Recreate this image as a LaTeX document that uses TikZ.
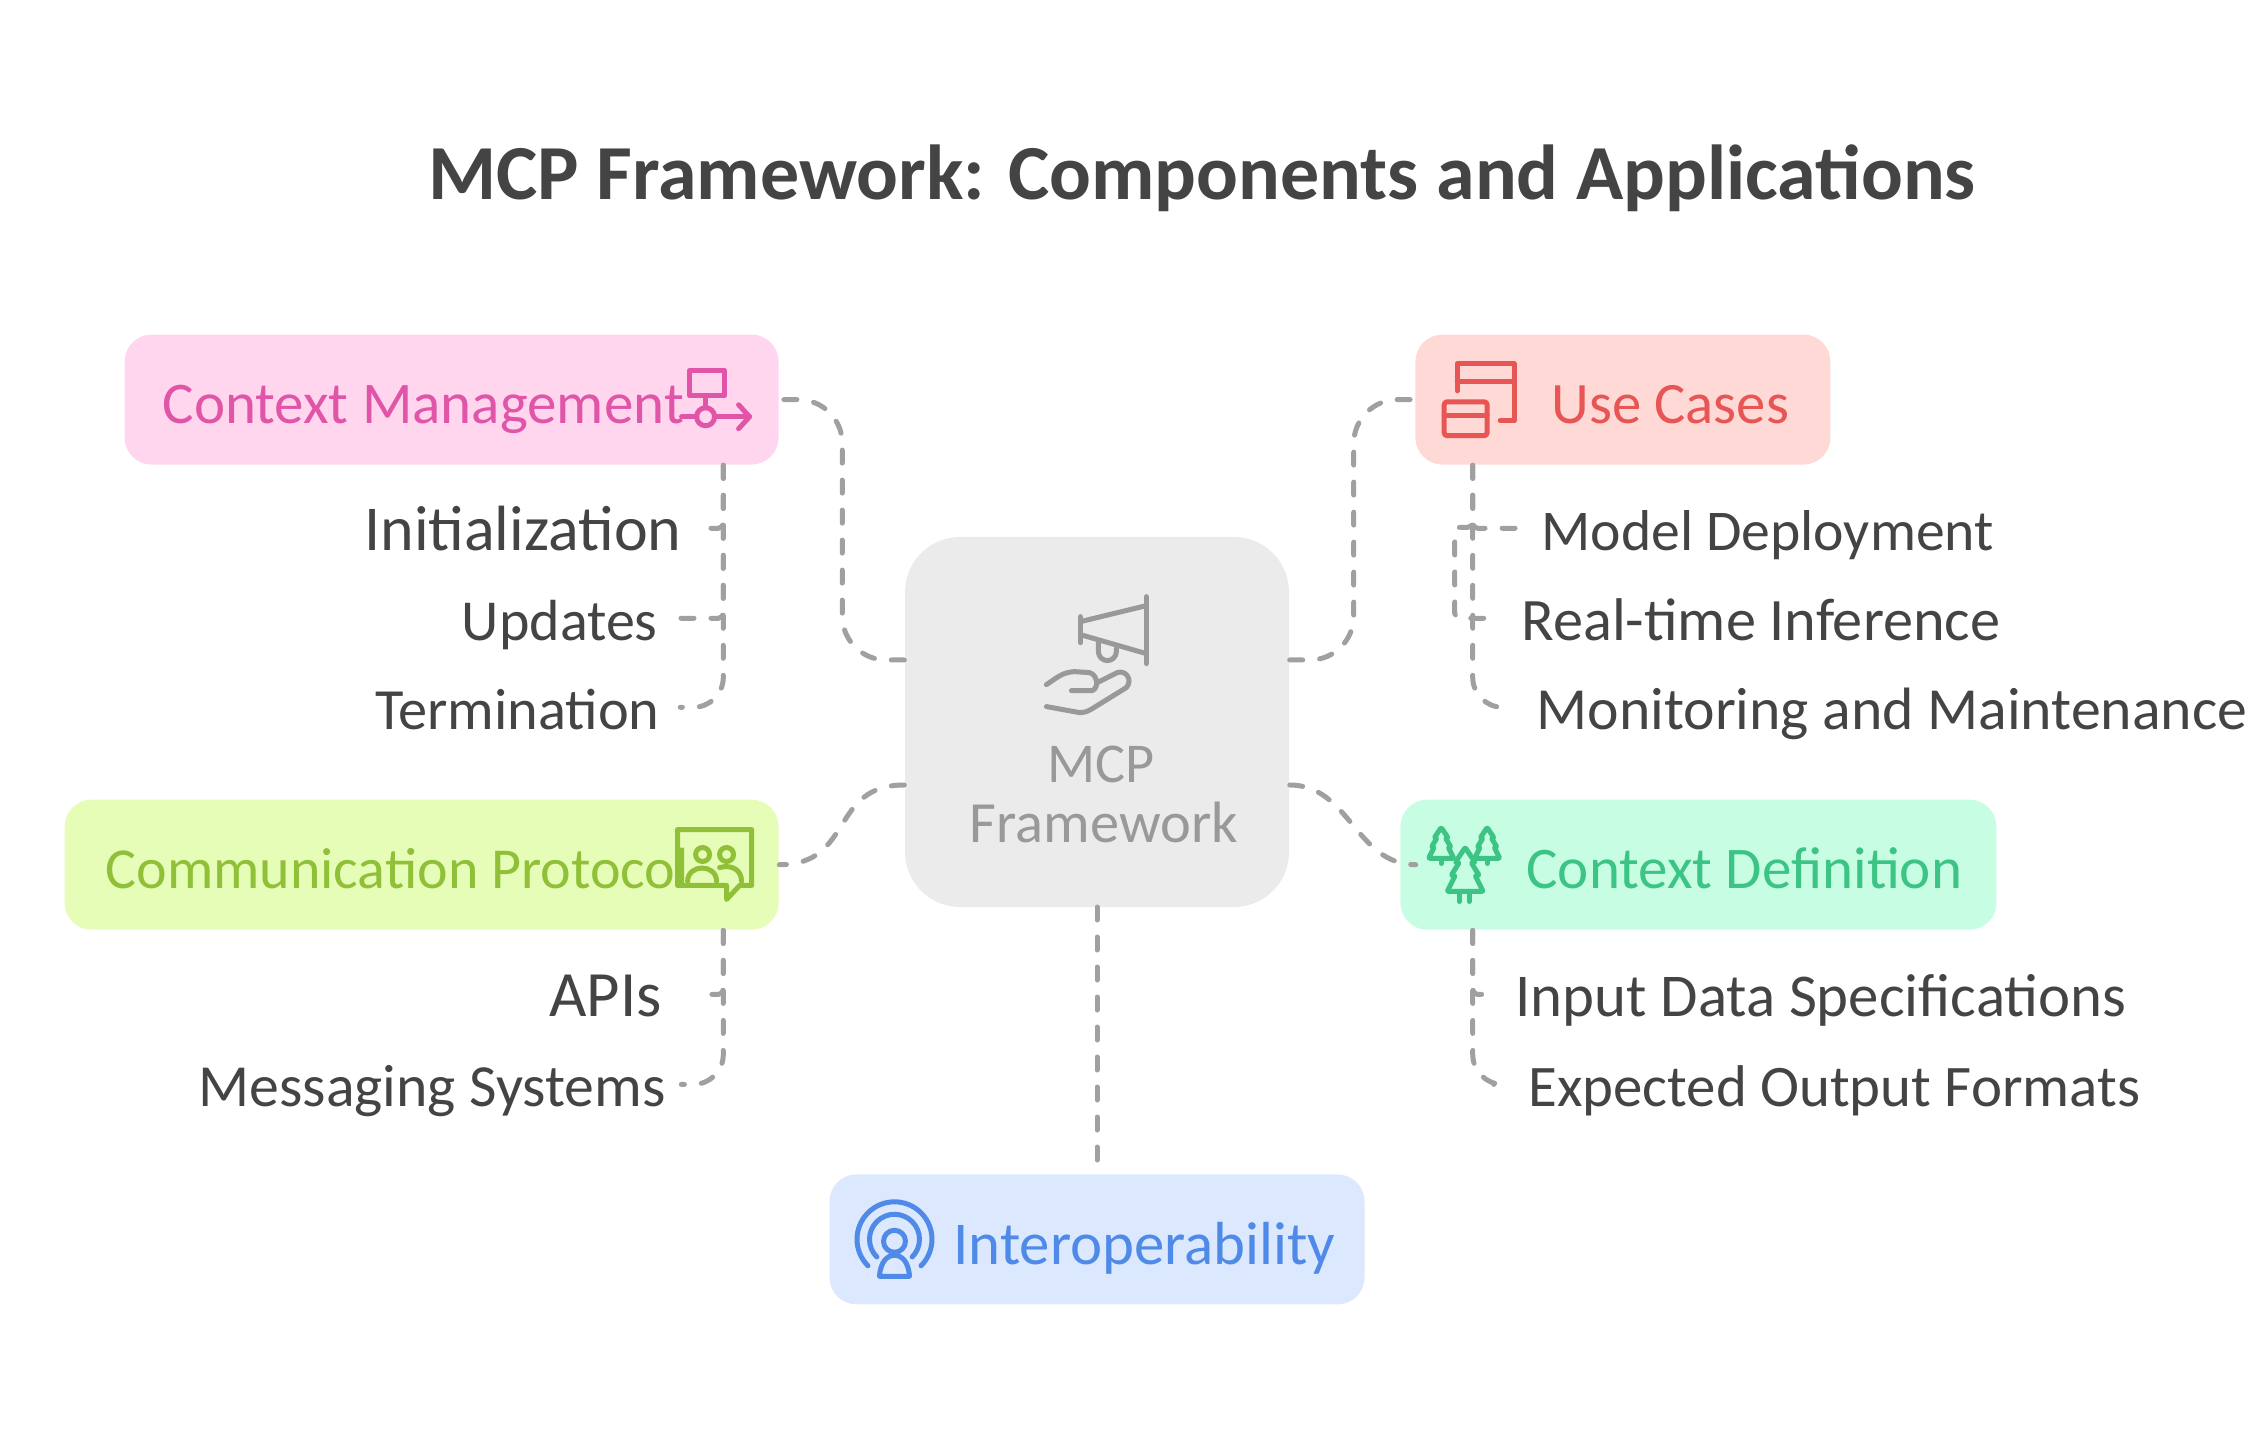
\documentclass[tikz,border=0pt]{standalone}
\usepackage{fontspec}
\setmainfont{Carlito}
\usetikzlibrary{positioning,calc}
\definecolor{inkgray}{HTML}{444444}
\definecolor{linkgray}{HTML}{A0A0A0}
\definecolor{hubfill}{HTML}{EBEBEB}
\definecolor{hubink}{HTML}{999999}
\definecolor{pinkfill}{HTML}{FFD6EE}
\definecolor{pinkink}{HTML}{E055A8}
\definecolor{redfill}{HTML}{FFD9D6}
\definecolor{redink}{HTML}{E85555}
\definecolor{limefill}{HTML}{E6FDB8}
\definecolor{limeink}{HTML}{90C038}
\definecolor{mintfill}{HTML}{C7FDE3}
\definecolor{mintink}{HTML}{3CC485}
\definecolor{bluefill}{HTML}{DCE8FD}
\definecolor{blueink}{HTML}{4F8AE8}

\begin{document}
\begin{tikzpicture}[
    % hub in the middle
    hubbox/.style={
      rectangle,
      rounded corners=0.55cm,
      fill=hubfill,
      minimum width=3.84cm,
      minimum height=3.70cm,
      inner sep=0pt
    },
    % coloured topic boxes
    topicbox/.style={
      rectangle,
      rounded corners=0.27cm,
      minimum height=1.30cm,
      inner sep=0pt
    },
    % text in a topic box, font size as argument
    topictext/.style={
      font=\fontsize{#1}{20}\selectfont,
      inner sep=0pt
    },
    % the leaves at the trunk lines
    leaftext/.style={
      font=\fontsize{#1}{20}\selectfont,
      text=inkgray,
      inner sep=0pt,
      text height=0.44cm,
      text depth=0pt
    },
    % dashed connectors
    link/.style={
      draw=linkgray,
      line width=0.05cm,
      line cap=round,
      dash pattern=on 0.13cm off 0.17cm
    },
    iconline/.style={
      line width=0.05cm,
      line cap=round,
      line join=round
    },
    pxscope/.style={
      x=0.01cm,
      y=-0.01cm
    }
  ]

  \useasboundingbox (0,0) rectangle (22.55,-14.30);

  % --- NODES ---

  % Title and hub
  \node[font=\fontsize{22.17}{26}\selectfont\bfseries, text=inkgray, anchor=base, inner sep=0pt] (title) at (12.02,-2.00)
    {MCP Framework: Components and Applications};
  \node[hubbox] (mcp) at (10.97,-7.22) {};
  \node[topictext=16, text=hubink, anchor=base] (mcpfirst) at ($(mcp.south)+(0.04,1.25)$) {MCP};
  \node[topictext=16.6, text=hubink, anchor=base] (mcpsecond) at ($(mcp.south)+(0.07,0.65)$) {Framework};

  % Topic boxes
  \node[topicbox, fill=pinkfill, minimum width=6.54cm, above left=0.71cm and 1.25cm of mcp.north west] (context) {};
  \node[topicbox, fill=redfill, minimum width=4.15cm, above right=0.71cm and 1.25cm of mcp.north east] (cases) {};
  \node[topicbox, fill=limefill, minimum width=7.14cm, below left=0.77cm and 1.25cm of mcp.west] (comm) {};
  \node[topicbox, fill=mintfill, minimum width=5.96cm, below right=0.77cm and 1.10cm of mcp.east] (definition) {};
  \node[topicbox, fill=bluefill, minimum width=5.35cm, below=2.66cm of mcp] (interop) {};

  \node[topictext=16.8, text=pinkink, anchor=base west] (contexttext) at ($(context.south west)+(0.38,0.42)$) {Context Management};
  \node[topictext=16.7, text=redink, anchor=base west] (casestext) at ($(cases.south west)+(1.36,0.42)$) {Use Cases};
  \node[topictext=16.5, text=limeink, anchor=base west] (commtext) at ($(comm.south west)+(0.41,0.42)$) {Communication Protocol};
  \node[topictext=16.8, text=mintink, anchor=base west] (definitiontext) at ($(definition.south west)+(1.26,0.42)$) {Context Definition};
  \node[topictext=17.3, text=blueink, anchor=base west] (interoptext) at ($(interop.south west)+(1.24,0.41)$) {Interoperability};

  % Leaves
  \node[leaftext=18.2, anchor=base east] (init) at ($(context.south east)+(-0.97,-0.85)$) {Initialization};
  \node[leaftext=16.5, anchor=base east] (updates) at ($(context.south east)+(-1.21,-1.75)$) {Updates};
  \node[leaftext=16.6, anchor=base east] (term) at ($(context.south east)+(-1.19,-2.64)$) {Termination};

  \node[leaftext=16.4, anchor=base west] (deploy) at ($(cases.south west)+(1.26,-0.85)$) {Model Deployment};
  \node[leaftext=17.15, anchor=base west] (realtime) at ($(cases.south west)+(1.06,-1.75)$) {Real-time Inference};
  \node[leaftext=17, anchor=base west] (monitor) at ($(cases.south west)+(1.21,-2.64)$) {Monitoring and Maintenance};

  \node[leaftext=18.4, anchor=base east] (apis) at ($(comm.south east)+(-1.17,-0.86)$) {APIs};
  \node[leaftext=17, anchor=base east] (messaging) at ($(comm.south east)+(-1.13,-1.76)$) {Messaging Systems};

  \node[leaftext=17.3, anchor=base west] (input) at ($(definition.south west)+(1.15,-0.86)$) {Input Data Specifications};
  \node[leaftext=16.75, anchor=base west] (output) at ($(definition.south west)+(1.28,-1.76)$) {Expected Output Formats};

  % --- CONNECTORS ---
  \coordinate (mcpnw) at ($(mcp.west)+(0,0.62)$);
  \coordinate (mcpsw) at ($(mcp.west)+(0,-0.63)$);
  \coordinate (mcpne) at ($(mcp.east)+(0,0.62)$);
  \coordinate (mcpse) at ($(mcp.east)+(0,-0.63)$);
  \coordinate (contexttrunk) at ($(context.south east)+(-0.56,0)$);
  \coordinate (casestrunk) at ($(cases.south west)+(0.58,0)$);
  \coordinate (commtrunk) at ($(comm.south east)+(-0.56,0)$);
  \coordinate (definitiontrunk) at ($(definition.south west)+(0.73,0)$);
  \coordinate (definitionend) at ($(definition.west)+(0.16,0)$);

  % Hub to topics
  \draw[link, rounded corners=0.44cm] (mcpnw) -- ++(-0.62,0) |- (context.east);
  \draw[link, rounded corners=0.44cm] (mcpne) -- ++(0.64,0) |- (cases.west);
  \draw[link] (mcpsw) .. controls +(-0.75,0) and +(0.75,0) .. (comm.east);
  \draw[link] (mcpse) .. controls +(0.60,0) and +(-0.60,0) .. (definitionend);
  \draw[link] (mcp) ++(0,-1.85) -- (interop.north);

  % Topics to leaves
  \draw[link, rounded corners=0.05cm, shorten >=0.20cm] (contexttrunk) |- (init.east);
  \draw[link, rounded corners=0.05cm, shorten >=0.20cm] (contexttrunk) |- (updates.east);
  \draw[link, rounded corners=0.30cm, shorten >=0.20cm] (contexttrunk) |- (term.east);

  \draw[link, rounded corners=0.05cm, shorten >=0.20cm] (casestrunk) |- (deploy.west);
  \draw[link, rounded corners=0.05cm, shorten >=0.30cm] (casestrunk) -- ++(0,-0.62) -- ++(-0.18,0) |- (realtime.west);
  \draw[link, rounded corners=0.30cm, shorten >=0.40cm] (casestrunk) |- (monitor.west);

  \draw[link, rounded corners=0.05cm, shorten >=0.41cm] (commtrunk) |- (apis.east);
  \draw[link, rounded corners=0.30cm, shorten >=0.15cm] (commtrunk) |- (messaging.east);

  \draw[link, rounded corners=0.05cm, shorten >=0.33cm] (definitiontrunk) |- (input.west);
  \draw[link, rounded corners=0.30cm, shorten >=0.34cm] (definitiontrunk) |- (output.west);

  % --- ICONS ---
  \begin{scope}[pxscope, iconline, draw=hubink]
    \draw (1147,597) -- (1147,664);
    \draw (1081,617) -- (1081,643);
    \draw (1081,622) -- (1147,606);
    \draw (1081,635) -- (1147,654);
    \draw (1099,643) -- (1099,652) arc[start angle=180, end angle=0, radius=9] -- (1117,649);
    \draw (1047,685) .. controls (1058,678) and (1062,673) .. (1075,672) -- (1090,673)
      .. controls (1098,675) and (1100,688) .. (1093,691) -- (1072,691);
    \draw (1098,683) -- (1118,673) .. controls (1126,670) and (1134,680) .. (1127,688)
      -- (1093,709) .. controls (1088,712) and (1085,713) .. (1080,713) -- (1047,707);
  \end{scope}

  \begin{scope}[pxscope, iconline, draw=pinkink]
    \draw (690,371) rectangle (725,396);
    \draw (706,396) -- (706,408);
    \draw (706,417) circle[radius=9];
    \draw (682,417) -- (697,417) (715,417) -- (750,417);
    \draw (739,405) -- (750,417) -- (739,429);
  \end{scope}

  \begin{scope}[pxscope, iconline, draw=redink]
    \draw (1458,391) -- (1458,364) -- (1515,364) -- (1515,421) -- (1501,421);
    \draw (1458,382) -- (1515,382);
    \draw[rounded corners=0.03cm] (1445,402) rectangle (1488,436);
    \draw (1445,416) -- (1488,416);
  \end{scope}

  \begin{scope}[pxscope, iconline, draw=limeink]
    \draw (678,830) -- (752,830) -- (752,886) -- (740,886) -- (727,900) -- (727,886) -- (678,886) -- cycle;
    \draw (703,855) circle[radius=7];
    \draw (727,855) circle[radius=7];
    \draw (688,882) .. controls (688,864) and (717,864) .. (717,882);
    \draw (720,868) .. controls (732,865) and (742,870) .. (742,882);
  \end{scope}

  \begin{scope}[pxscope, iconline, draw=mintink]
    \foreach \px/\py/\ps in {1442/828/0.70, 1488/828/0.70, 1466/848/1} {
      \draw[fill=mintfill, shift={(\px,\py)}, scale=\ps, rounded corners=0.01cm]
        (0,0) -- (10,15) -- (6,15) -- (14,28) -- (10,28) -- (18,44) -- (-18,44)
        -- (-10,28) -- (-14,28) -- (-6,15) -- (-10,15) -- cycle;
    }
    \draw (1442,859) -- (1442,864) (1488,859) -- (1488,864);
    \draw (1460,892) -- (1460,902) (1470,892) -- (1470,902);
  \end{scope}

  \begin{scope}[pxscope, iconline, draw=blueink]
    \draw (895,1240) ++(135:37.5) arc[start angle=135, end angle=405, radius=37.5];
    \draw (895,1240) ++(135:25) arc[start angle=135, end angle=405, radius=25];
    \draw (895,1242) circle[radius=11];
    \draw (880,1277) .. controls (881,1262) and (888,1256) .. (895,1256)
      .. controls (902,1256) and (909,1262) .. (910,1277) -- cycle;
  \end{scope}

\end{tikzpicture}
\end{document}
